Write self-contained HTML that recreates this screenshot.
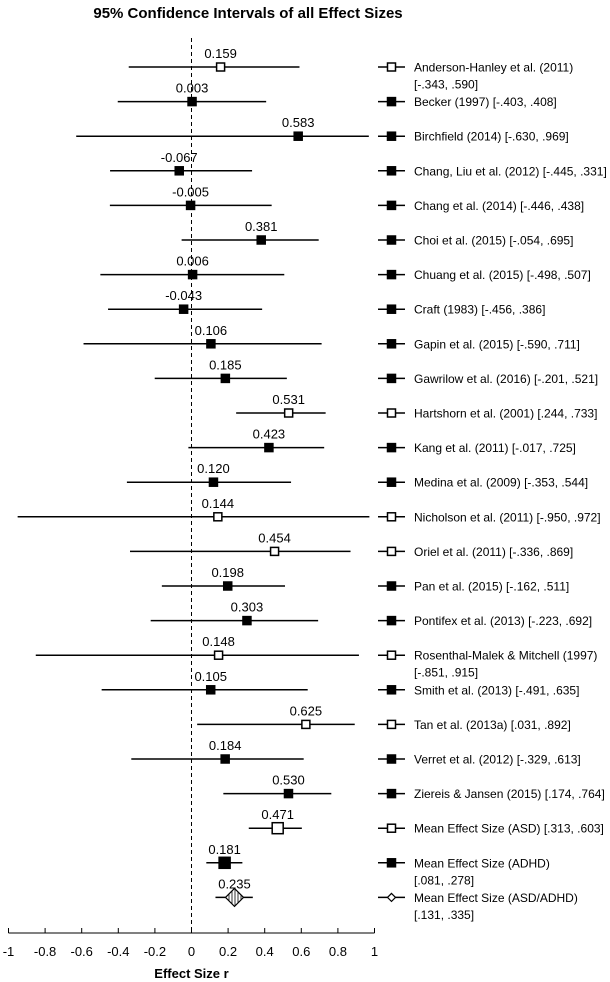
<!DOCTYPE html>
<html><head><meta charset="utf-8">
<style>
html,body{margin:0;padding:0;background:#fff;}
svg{display:block;font-family:"Liberation Sans",sans-serif;}
</style></head>
<body>
<svg id="chart" width="610" height="982" viewBox="0 0 610 982" xmlns="http://www.w3.org/2000/svg">
<defs>
<pattern id="hatch" patternUnits="userSpaceOnUse" width="3" height="3" patternTransform="rotate(0)">
<rect width="3" height="3" fill="#fff"/><line x1="1" y1="0" x2="1" y2="3" stroke="#000" stroke-width="0.8"/>
</pattern>
</defs>
<text x="248" y="18" text-anchor="middle" font-size="15" font-weight="bold">95% Confidence Intervals of all Effect Sizes</text>
<g id="plot"></g>
</svg>
<script>
const studies = ["Anderson-Hanley et al. (2011)|[-.343, .590]","Becker (1997) [-.403, .408]","Birchfield (2014) [-.630, .969]","Chang, Liu et al. (2012) [-.445, .331]","Chang et al. (2014) [-.446, .438]","Choi et al. (2015) [-.054, .695]","Chuang et al. (2015) [-.498, .507]","Craft (1983) [-.456, .386]","Gapin et al. (2015) [-.590, .711]","Gawrilow et al. (2016) [-.201, .521]","Hartshorn et al. (2001) [.244, .733]","Kang et al. (2011) [-.017, .725]","Medina et al. (2009) [-.353, .544]","Nicholson et al. (2011) [-.950, .972]","Oriel et al. (2011) [-.336, .869]","Pan et al. (2015) [-.162, .511]","Pontifex et al. (2013) [-.223, .692]","Rosenthal-Malek & Mitchell (1997)|[-.851, .915]","Smith et al. (2013) [-.491, .635]","Tan et al. (2013a) [.031, .892]","Verret et al. (2012) [-.329, .613]","Ziereis & Jansen (2015) [.174, .764]","Mean Effect Size  (ASD) [.313, .603]","Mean Effect Size  (ADHD)|[.081, .278]","Mean  Effect Size (ASD/ADHD)|[.131, .335]"];
const effects = [0.159,0.003,0.583,-0.067,-0.005,0.381,0.006,-0.043,0.106,0.185,0.531,0.423,0.120,0.144,0.454,0.198,0.303,0.148,0.105,0.625,0.184,0.530,0.471,0.181,0.235];
const lower = [-0.343,-0.403,-0.630,-0.445,-0.446,-0.054,-0.498,-0.456,-0.590,-0.201,0.244,-0.017,-0.353,-0.950,-0.336,-0.162,-0.223,-0.851,-0.491,0.031,-0.329,0.174,0.313,0.081,0.131];
const upper = [0.590,0.408,0.969,0.331,0.438,0.695,0.507,0.386,0.711,0.521,0.733,0.725,0.544,0.972,0.869,0.511,0.692,0.915,0.635,0.892,0.613,0.764,0.603,0.278,0.335];
const markerType = ["open","filled","filled","filled","filled","filled","filled","filled","filled","filled","open","filled","filled","open","open","filled","filled","open","filled","open","filled","filled","open-big","filled-big","diamond"];
const effectLabels = ["0.159","0.003","0.583","-0.067","-0.005","0.381","0.006","-0.043","0.106","0.185","0.531","0.423","0.120","0.144","0.454","0.198","0.303","0.148","0.105","0.625","0.184","0.530","0.471","0.181","0.235"];
const xTicks = [-1,-0.8,-0.6,-0.4,-0.2,0,0.2,0.4,0.6,0.8,1];
const xTickLabels = ["-1","-0.8","-0.6","-0.4","-0.2","0","0.2","0.4","0.6","0.8","1"];

const NS="http://www.w3.org/2000/svg";
const g=document.getElementById('plot');
function x(v){return 191.5+v*183;}
function y(i){return 67+i*34.6;}
function mk(tag,attrs,parent){const e=document.createElementNS(NS,tag);for(const k in attrs)e.setAttribute(k,attrs[k]);(parent||g).appendChild(e);return e;}
const axisY=933;
// zero line
let zl=mk('line',{x1:x(0),y1:38,x2:x(0),y2:axisY,stroke:'#000','stroke-width':1,'stroke-dasharray':'4,3'});


// axis
let ax=mk('line',{x1:x(-1),y1:axisY,x2:x(1),y2:axisY,stroke:'#000','stroke-width':1});


xTicks.forEach((t,k)=>{
  let tk=mk('line',{x1:x(t),y1:axisY-5,x2:x(t),y2:axisY,stroke:'#000','stroke-width':1});
  
  
  let tl=mk('text',{x:x(t),y:axisY+23,'text-anchor':'middle','font-size':13});
  tl.textContent=xTickLabels[k];
  
  
});
let xt=mk('text',{x:x(0),y:978,'text-anchor':'middle','font-size':13,'font-weight':'bold'});
xt.textContent='Effect Size r';



function marker(type,cx,cy,parent){
  let s=8;
  if(type==='diamond'){
    const h=9;
    return mk('polygon',{points:`${cx},${cy-h} ${cx+h},${cy} ${cx},${cy+h} ${cx-h},${cy}`,fill:'url(#hatch)',stroke:'#000','stroke-width':1.2},parent);
  }
  if(type.indexOf('big')>=0) s=11;
  const open=type.indexOf('open')===0;
  return mk('rect',{x:cx-s/2,y:cy-s/2,width:s,height:s,fill:open?'#fff':'#000',stroke:'#000','stroke-width':1.5},parent);
}
function legendMarker(type,cx,cy,parent){
  if(type==='diamond'){const h=4;return mk('polygon',{points:`${cx},${cy-h} ${cx+h},${cy} ${cx},${cy+h} ${cx-h},${cy}`,fill:'#fff',stroke:'#000','stroke-width':1.2},parent);}
  const open=type.indexOf('open')===0,s=8;
  return mk('rect',{x:cx-s/2,y:cy-s/2,width:s,height:s,fill:open?'#fff':'#000',stroke:'#000','stroke-width':1.5},parent);
}
studies.forEach((name,i)=>{
  const row=mk('g',{});
  
  
  const cy=y(i);
  let ci=mk('line',{x1:x(lower[i]),y1:cy,x2:x(upper[i]),y2:cy,stroke:'#000','stroke-width':1.5},row);
  
  
  let m=marker(markerType[i],x(effects[i]),cy,row);
  
  
  let vl=mk('text',{x:x(effects[i]),y:cy-9,'text-anchor':'middle','font-size':13},row);
  vl.textContent=effectLabels[i];
  
  
  // legend
  const lg=mk('g',{},row);
  
  
  mk('line',{x1:378,y1:cy,x2:405,y2:cy,stroke:'#000','stroke-width':1.5},lg);
  legendMarker(markerType[i],391.5,cy,lg);
  const parts=name.split('|');
  parts.forEach((p,k)=>{
    let t=mk('text',{x:414,y:cy+4.5+k*17,'font-size':12},lg);
    t.textContent=p;
  });
});
</script>
</body></html>
